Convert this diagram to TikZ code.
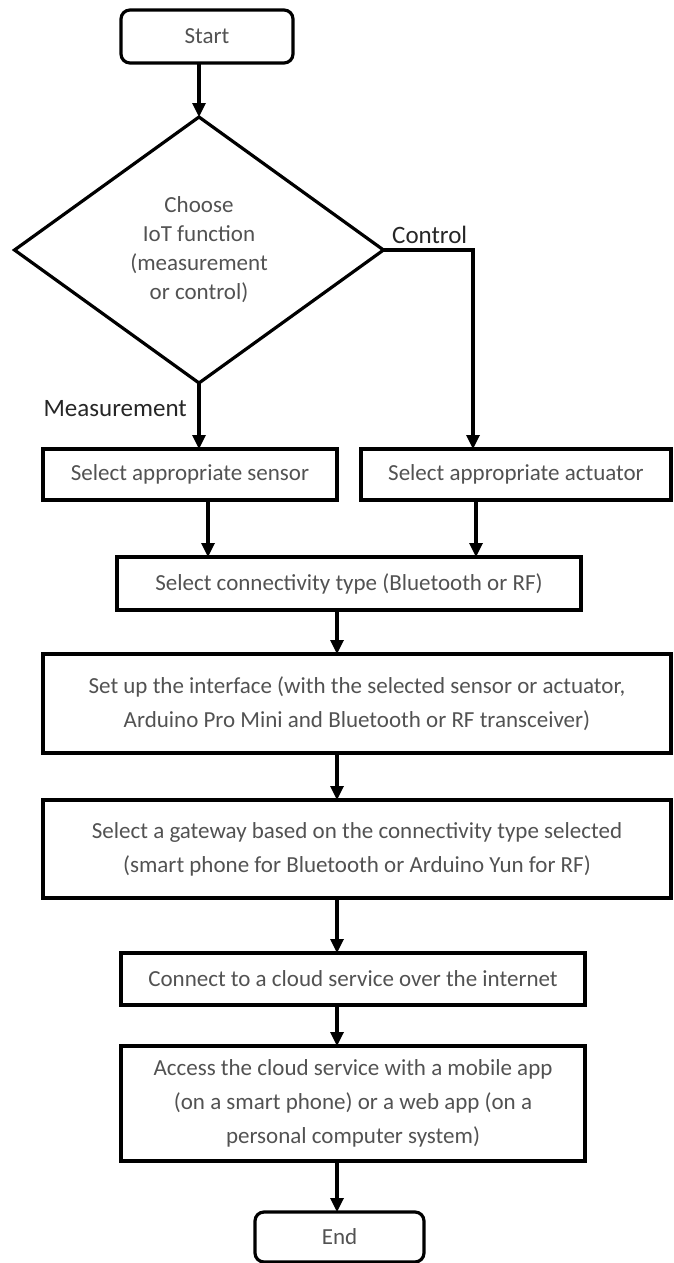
\documentclass[tikz,border=0pt]{standalone}
\usepackage{fontspec}
\setmainfont{Carlito}
\usetikzlibrary{shapes.geometric,arrows.meta}
\begin{document}
\begin{tikzpicture}[x=1pt,y=-1pt,
  box/.style={draw=black,line width=3.2pt,rectangle,inner sep=0pt,outer sep=0pt,text=black!68,font=\fontsize{23}{34}\selectfont,align=center},
  term/.style={box,rounded corners=9pt},
  dec/.style={draw=black,diamond,line width=3.2pt,inner sep=0pt,outer sep=0pt,minimum width=369pt,minimum height=266pt,text=black!68,align=center,font=\fontsize{23}{29}\selectfont},
  lbl/.style={text=black!85,font=\fontsize{25}{30}\selectfont,inner sep=0pt},
  arr/.style={draw=black,line width=3.2pt,-{Triangle[length=14pt,width=13pt]}}]
\useasboundingbox (0,0) rectangle (673,1263);
\node[term,minimum width=172pt,minimum height=53pt] (start) at (207,36.5) {Start};
\node[dec] (dia) at (199,250) {Choose\\IoT function\\(measurement\\or control)};
\node[box,minimum width=294pt,minimum height=51pt] (sensor) at (190,474.5) {Select appropriate sensor};
\node[box,minimum width=310pt,minimum height=51pt] (actuator) at (516,474.5) {Select appropriate actuator};
\node[box,minimum width=464pt,minimum height=53pt] (conn) at (349,583.5) {Select connectivity type (Bluetooth or RF)};
\node[box,minimum width=628pt,minimum height=99pt] (iface) at (357,703.5) {Set up the interface (with the selected sensor or actuator,\\Arduino Pro Mini and Bluetooth or RF transceiver)};
\node[box,minimum width=628pt,minimum height=98pt] (gate) at (357,849) {Select a gateway based on the connectivity type selected\\(smart phone for Bluetooth or Arduino Yun for RF)};
\node[box,minimum width=464pt,minimum height=52pt] (cloud) at (353,979) {Connect to a cloud service over the internet};
\node[box,minimum width=464pt,minimum height=115pt] (access) at (353,1103.5) {Access the cloud service with a mobile app\\(on a smart phone) or a web app (on a\\personal computer system)};
\node[term,minimum width=169pt,minimum height=50pt] (end) at (339.5,1237) {End};
\node[lbl,anchor=base east] (meas) at (187,416) {Measurement};
\node[lbl,anchor=base west] (ctrl) at (392,243) {Control};
\coordinate (xd) at (199,0);
\coordinate (xs) at (208,0);
\coordinate (xa) at (476,0);
\coordinate (xc) at (473,0);
\coordinate (xm) at (337,0);
\draw[arr] (start.south -| xd) -- (dia.north);
\draw[arr] (dia.south) -- (sensor.north -| xd);
\draw[arr] (dia.east) -- (dia.east -| xc) -- (actuator.north -| xc);
\draw[arr] (sensor.south -| xs) -- (conn.north -| xs);
\draw[arr] (actuator.south -| xa) -- (conn.north -| xa);
\draw[arr] (conn.south -| xm) -- (iface.north -| xm);
\draw[arr] (iface.south -| xm) -- (gate.north -| xm);
\draw[arr] (gate.south -| xm) -- (cloud.north -| xm);
\draw[arr] (cloud.south -| xm) -- (access.north -| xm);
\draw[arr] (access.south -| xm) -- (end.north -| xm);
\end{tikzpicture}
\end{document}
